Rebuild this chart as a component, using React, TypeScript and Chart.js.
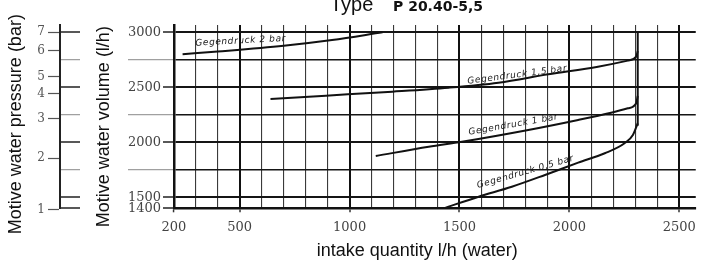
import { useEffect, useRef } from 'react';
import { Chart, registerables } from 'chart.js';

Chart.register(...registerables);

// ---- axis / grid values ----
const xGridValues = [200, 300, 400, 500, 600, 700, 800, 900, 1000, 1100, 1200, 1300, 1400, 1500, 1600, 1700, 1800, 1900, 2000, 2100, 2200, 2300, 2400, 2500];
const xTickLabels = [200, 500, 1000, 1500, 2000, 2500];
const xMajorLines = [500, 1000, 1500, 2000, 2500];
const volumeGridValues = [1400, 1500, 1750, 2000, 2250, 2500, 2750, 3000];
const volumeTickLabels = [1400, 1500, 2000, 2500, 3000];
const pressureLabels = ['1', '2', '3', '4', '5', '6', '7'];
const pressureVolumes = [1390, 1857, 2212, 2439, 2594, 2830, 3000];

// ---- curves (intake quantity l/h  vs  motive water volume l/h) ----
const bar2X = [240, 400, 700, 920, 1150];
const bar2Y = [2800, 2825, 2878, 2930, 3000];
const bar15X = [640, 892, 1194, 1451, 1677, 1904, 2130, 2266, 2304, 2311];
const bar15Y = [2394, 2424, 2460, 2496, 2542, 2618, 2687, 2742, 2778, 2830];
const bar1X = [1119, 1360, 1511, 1813, 2040, 2190, 2266, 2304, 2311];
const bar1Y = [1875, 1960, 2005, 2112, 2203, 2269, 2309, 2355, 2420];
const bar05X = [1428, 1587, 1738, 1889, 2040, 2161, 2251, 2289, 2311];
const bar05Y = [1400, 1505, 1596, 1703, 1815, 1900, 1991, 2066, 2173];
const limitX = [2311, 2311];
const limitY = [2150, 3000];

// ---- curve captions ----
const curveLabels = ['Gegendruck 2 bar', 'Gegendruck 1,5 bar', 'Gegendruck 1 bar', 'Gegendruck 0,5 bar'];
const curveLabelX = [504, 1763, 1745, 1800];
const curveLabelY = [2921, 2612, 2160, 1730];
const curveLabelAngle = [3, 7.5, 10, 16];

const titleMain = 'Type';
const titleModel = 'P 20.40-5,5';

const pts = (xs: number[], ys: number[]) => xs.map((x, i) => ({ x, y: ys[i] }));

const annotations = {
  id: 'annotations',
  afterDatasetsDraw(chart: any) {
    const { ctx, scales } = chart;
    const x = scales.x;
    const y = scales.y;
    ctx.save();
    ctx.fillStyle = '#1a1a1a';
    ctx.font = 'italic 9px "DejaVu Sans"';
    (ctx as any).letterSpacing = '0.6px';
    ctx.textAlign = 'center';
    ctx.textBaseline = 'middle';
    curveLabels.forEach((t, i) => {
      ctx.save();
      ctx.translate(x.getPixelForValue(curveLabelX[i]), y.getPixelForValue(curveLabelY[i]));
      ctx.rotate((-curveLabelAngle[i] * Math.PI) / 180);
      ctx.fillText(t, 0, 0);
      ctx.restore();
    });
    ctx.restore();
  },
  afterDraw(chart: any) {
    const { ctx } = chart;
    ctx.save();
    ctx.fillStyle = '#111';
    ctx.textAlign = 'left';
    ctx.textBaseline = 'alphabetic';
    ctx.font = '20px "Liberation Sans"';
    ctx.fillText(titleMain, 330, 11);
    ctx.font = 'bold 14px "DejaVu Sans"';
    ctx.fillText(titleModel, 393, 11);
    ctx.restore();
  },
};

const lineDs = (data: { x: number; y: number }[], mono = true) => ({
  data,
  borderColor: '#111',
  borderWidth: 2,
  pointRadius: 0,
  fill: false,
  yAxisID: 'y',
  xAxisID: 'x',
  cubicInterpolationMode: mono ? 'monotone' : 'default',
  tension: 0,
});

export default function App() {
  const ref = useRef<HTMLCanvasElement>(null);
  useEffect(() => {
    const isMajorY = (c: any) => volumeTickLabels.includes(c.tick?.value);
    const isMajorX = (c: any) => xMajorLines.includes(c.tick?.value);
    const isLabeledX = (c: any) => xTickLabels.includes(c.tick?.value);
    const chart = new Chart(ref.current!, {
      type: 'line',
      data: {
        datasets: [
          lineDs(pts(bar2X, bar2Y)),
          lineDs(pts(bar15X, bar15Y)),
          lineDs(pts(bar1X, bar1Y)),
          lineDs(pts(bar05X, bar05Y)),
          lineDs(pts(limitX, limitY), false),
        ] as any,
      },
      plugins: [annotations],
      options: {
        responsive: false,
        animation: false,
        events: [],
        layout: { padding: { top: 25, right: 6, left: 0, bottom: 0 } },
        plugins: { legend: { display: false }, tooltip: { enabled: false } },
        scales: {
          x: {
            type: 'linear',
            position: 'bottom',
            min: 200,
            max: 2575,
            afterBuildTicks: (s: any) => {
              s.ticks = xGridValues.map((v) => ({ value: v }));
            },
            afterFit: (s: any) => {
              s.height = 55.7;
            },
            ticks: {
              autoSkip: false,
              maxRotation: 0,
              padding: 8,
              color: '#444',
              font: { family: 'DejaVu Serif', size: 13 },
              callback: (v: any) => (xTickLabels.includes(v) ? String(v) : ''),
            },
            grid: {
              color: (c: any) => (isMajorX(c) ? '#111' : '#3a3a3a'),
              lineWidth: (c: any) => (isMajorX(c) ? 2 : 1.1),
              tickLength: 4,
              tickColor: (c: any) => (isLabeledX(c) ? '#333' : 'rgba(0,0,0,0)'),
              tickWidth: 1.5,
            },
            border: { display: true, color: '#111', width: 2.5 },
            title: {
              display: true,
              text: 'intake quantity l/h (water)       ',
              color: '#111',
              font: { family: 'Liberation Sans', size: 18 },
              padding: { top: 0, bottom: 2 },
            },
          },
          y: {
            type: 'linear',
            position: 'left',
            weight: 0,
            min: 1400,
            max: 3066,
            afterBuildTicks: (s: any) => {
              s.ticks = volumeGridValues.map((v) => ({ value: v }));
            },
            afterFit: (s: any) => {
              s.width = 113.8;
            },
            ticks: {
              autoSkip: false,
              padding: -101,
              color: '#444',
              font: { family: 'DejaVu Serif', size: 13 },
              callback: (v: any) => (volumeTickLabels.includes(v) ? String(v) : ''),
            },
            grid: {
              color: '#151515',
              lineWidth: (c: any) => (isMajorY(c) ? 2 : 1.4),
              tickLength: 113.8,
              tickColor: (c: any) => (isMajorY(c) ? '#222' : '#a0a0a0'),
              tickWidth: (c: any) => (isMajorY(c) ? 1.6 : 1.2),
              tickBorderDash: (c: any) => (isMajorY(c) ? [20, 83, 20] : [20, 48, 60]),
            },
            border: { display: true, color: '#111', width: 2.5 },
            title: {
              display: true,
              text: 'Motive water volume (l/h)    ',
              color: '#111',
              font: { family: 'Liberation Sans', size: 18 },
              padding: { top: 33, bottom: 0 },
            },
          },
          p: {
            type: 'linear',
            axis: 'y',
            position: 'left',
            weight: 1,
            min: 1400,
            max: 3066,
            afterBuildTicks: (s: any) => {
              s.ticks = pressureVolumes.map((v) => ({ value: v }));
            },
            afterFit: (s: any) => {
              s.width = 60;
            },
            ticks: {
              autoSkip: false,
              padding: 3,
              color: '#555',
              font: { family: 'DejaVu Serif', size: 12 },
              callback: (_v: any, i: number) => pressureLabels[i],
            },
            grid: { drawOnChartArea: false, tickLength: 12, tickColor: '#555', tickWidth: 1.2 },
            border: { display: true, color: '#222', width: 2 },
            title: {
              display: true,
              text: 'Motive water pressure (bar)   ',
              color: '#111',
              font: { family: 'Liberation Sans', size: 18 },
              padding: { top: 5, bottom: 0 },
            },
          },
        } as any,
      },
    });
    return () => chart.destroy();
  }, []);
  return (
    <div style={{ position: 'fixed', left: 0, top: 0, width: 704, height: 264, background: '#fff' }}>
      <canvas ref={ref} width={704} height={264} style={{ display: 'block', width: 704, height: 264 }} />
    </div>
  );
}
